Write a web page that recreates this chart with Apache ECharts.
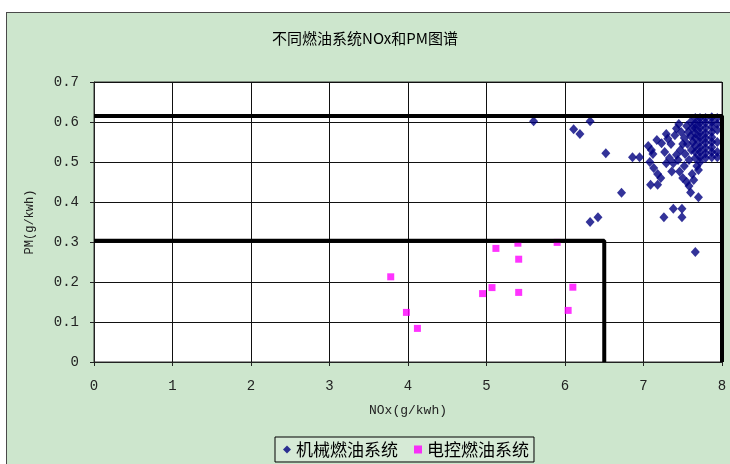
<!DOCTYPE html>
<html>
<head>
<meta charset="utf-8">
<script src="https://cdn.jsdelivr.net/npm/echarts@6/dist/echarts.min.js"></script>
<style>
  html, body { margin: 0; padding: 0; background: #fff; }
  #wrap { position: relative; width: 730px; height: 464px; overflow: hidden; }
  #frame { position: absolute; left: 6px; top: 12px; width: 760px; height: 480px;
           background: #cde6cd; border: 1.5px solid #4a4a4a; }
  #chart { position: absolute; left: 0; top: 0; width: 730px; height: 464px; }
</style>
</head>
<body>
<div id="wrap">
  <div id="frame"></div>
  <div id="chart"></div>
</div>
<script>
// 机械燃油系统 (mechanical fuel system) measurements
const mechNOx = [
  5.60, 6.32, 6.11, 6.19, 6.52, 6.86, 6.95, 6.72, 6.32, 6.42, 7.66, 7.09, 7.18, 7.60, 7.70, 7.38, 7.49, 7.26, 7.49,
  7.06, 7.10, 7.12, 7.08, 7.13, 7.18, 7.22, 7.23, 7.17, 7.29, 7.31, 7.35, 7.40, 7.42, 7.44, 7.42, 7.36, 7.46, 7.29,
  7.38, 7.33, 7.27, 7.50, 7.55, 7.58, 7.52, 7.47, 7.50, 7.52, 7.48, 7.45, 7.55, 7.57, 7.56, 7.53, 7.58, 7.61, 7.66,
  7.68, 7.70, 7.62, 7.64, 7.60, 7.62, 7.60, 7.63,
  7.66, 7.66, 7.66, 7.66, 7.66, 7.66, 7.66,
  7.72, 7.72, 7.72, 7.72, 7.72, 7.72, 7.72, 7.72, 7.72, 7.72,
  7.79, 7.79, 7.79, 7.79, 7.79, 7.79, 7.79, 7.79, 7.79,
  7.87, 7.87, 7.87, 7.87, 7.87, 7.87, 7.87, 7.87, 7.87,
  7.94, 7.94, 7.94, 7.94, 7.94, 7.94
];
const mechPM = [
  0.602, 0.602, 0.582, 0.570, 0.522, 0.512, 0.512, 0.423, 0.350, 0.362, 0.275, 0.443, 0.443, 0.424, 0.412, 0.383, 0.383, 0.362, 0.362,
  0.540, 0.530, 0.520, 0.500, 0.485, 0.470, 0.460, 0.547, 0.555, 0.570, 0.558, 0.545, 0.567, 0.584, 0.505, 0.518, 0.476, 0.476, 0.497,
  0.497, 0.510, 0.525, 0.460, 0.450, 0.440, 0.490, 0.530, 0.545, 0.560, 0.575, 0.595, 0.590, 0.575, 0.545, 0.520, 0.505, 0.530, 0.510,
  0.490, 0.480, 0.470, 0.455, 0.600, 0.585, 0.565, 0.550,
  0.610, 0.597, 0.585, 0.572, 0.560, 0.540, 0.525,
  0.610, 0.598, 0.586, 0.574, 0.562, 0.550, 0.537, 0.525, 0.512, 0.500,
  0.610, 0.598, 0.585, 0.572, 0.560, 0.548, 0.535, 0.522, 0.510,
  0.612, 0.600, 0.588, 0.575, 0.562, 0.550, 0.537, 0.525, 0.512,
  0.610, 0.595, 0.580, 0.550, 0.525, 0.512
];

// 电控燃油系统 (electronically controlled fuel system) measurements
const elecNOx = [3.78, 3.98, 4.12, 4.95, 5.07, 5.12, 5.40, 5.41, 5.41, 5.90, 6.10, 6.04];
const elecPM  = [0.213, 0.124, 0.084, 0.171, 0.186, 0.284, 0.297, 0.257, 0.174, 0.299, 0.187, 0.129];

// Emission limit boundaries (NOx, PM corner paths)
const limitUpperNOx = [0, 8, 8];
const limitUpperPM  = [0.615, 0.615, 0];
const limitLowerNOx = [0, 6.5, 6.5];
const limitLowerPM  = [0.303, 0.303, 0];

// Axis ticks
const xTicks = { min: 0, max: 8, step: 1 };
const yTicks = { min: 0, max: 0.7, step: 0.1 };

const zip = (a, b) => a.map((v, i) => [v, b[i]]);

const tickFont = 'Liberation Mono, DejaVu Sans Mono, monospace';
const cjkFont = 'Noto Sans CJK SC, sans-serif';

const chart = echarts.init(document.getElementById('chart'), null, { renderer: 'canvas' });
chart.setOption({
  backgroundColor: 'transparent',
  animation: false,
  title: {
    text: '不同燃油系统NOx和PM图谱',
    left: 'center',
    top: 26,
    textStyle: { fontFamily: cjkFont, fontSize: 15, fontWeight: 'normal', color: '#000' }
  },
  legend: {
    data: [
      { name: '机械燃油系统', icon: 'diamond' },
      { name: '电控燃油系统', icon: 'rect' }
    ],
    left: 275,
    top: 437,
    itemWidth: 8,
    itemHeight: 8,
    itemGap: 16,
    padding: [4, 5, 4, 8],
    borderColor: '#000',
    borderWidth: 1,
    backgroundColor: '#d6ead6',
    textStyle: { fontFamily: cjkFont, fontSize: 17, color: '#000', padding: [0, 0, 0, 0] }
  },
  grid: {
    left: 94, top: 82, width: 628, height: 280,
    show: true, backgroundColor: '#fff', borderColor: '#333', borderWidth: 1
  },
  xAxis: {
    type: 'value',
    min: xTicks.min, max: xTicks.max, interval: xTicks.step,
    name: 'NOx(g/kwh)',
    nameLocation: 'middle',
    nameGap: 42,
    nameTextStyle: { fontFamily: tickFont, fontSize: 13, color: '#222' },
    axisLine: { show: true, lineStyle: { color: '#222', width: 1 } },
    axisTick: { show: true, length: 4, lineStyle: { color: '#222' } },
    axisLabel: { margin: 17, fontFamily: tickFont, fontSize: 14, color: '#222' },
    splitLine: { show: true, lineStyle: { color: '#111', width: 1 } }
  },
  yAxis: {
    type: 'value',
    min: yTicks.min, max: yTicks.max, interval: yTicks.step,
    name: 'PM(g/kwh)',
    nameLocation: 'middle',
    nameGap: 58,
    nameRotate: 90,
    nameTextStyle: { fontFamily: tickFont, fontSize: 12, color: '#222' },
    axisLine: { show: true, lineStyle: { color: '#222', width: 1 } },
    axisTick: { show: true, length: 4, lineStyle: { color: '#222' } },
    axisLabel: {
      margin: 15, fontFamily: tickFont, fontSize: 14, color: '#222',
      formatter: v => (v === 0 ? '0' : v.toFixed(1))
    },
    splitLine: { show: true, lineStyle: { color: '#111', width: 1 } }
  },
  series: [
    {
      name: '机械燃油系统',
      type: 'scatter',
      symbol: 'diamond',
      symbolSize: [9, 10],
      itemStyle: { color: '#000080' },
      data: zip(mechNOx, mechPM),
      z: 3
    },
    {
      name: '电控燃油系统',
      type: 'scatter',
      symbol: 'rect',
      symbolSize: 7,
      itemStyle: { color: '#ff00ff' },
      data: zip(elecNOx, elecPM),
      z: 3
    },
    {
      name: 'limitUpper',
      type: 'line',
      symbol: 'none',
      lineStyle: { color: '#000', width: 4 },
      data: zip(limitUpperNOx, limitUpperPM),
      silent: true,
      z: 4
    },
    {
      name: 'limitLower',
      type: 'line',
      symbol: 'none',
      lineStyle: { color: '#000', width: 4 },
      data: zip(limitLowerNOx, limitLowerPM),
      silent: true,
      z: 4
    }
  ]
});
</script>
</body>
</html>
